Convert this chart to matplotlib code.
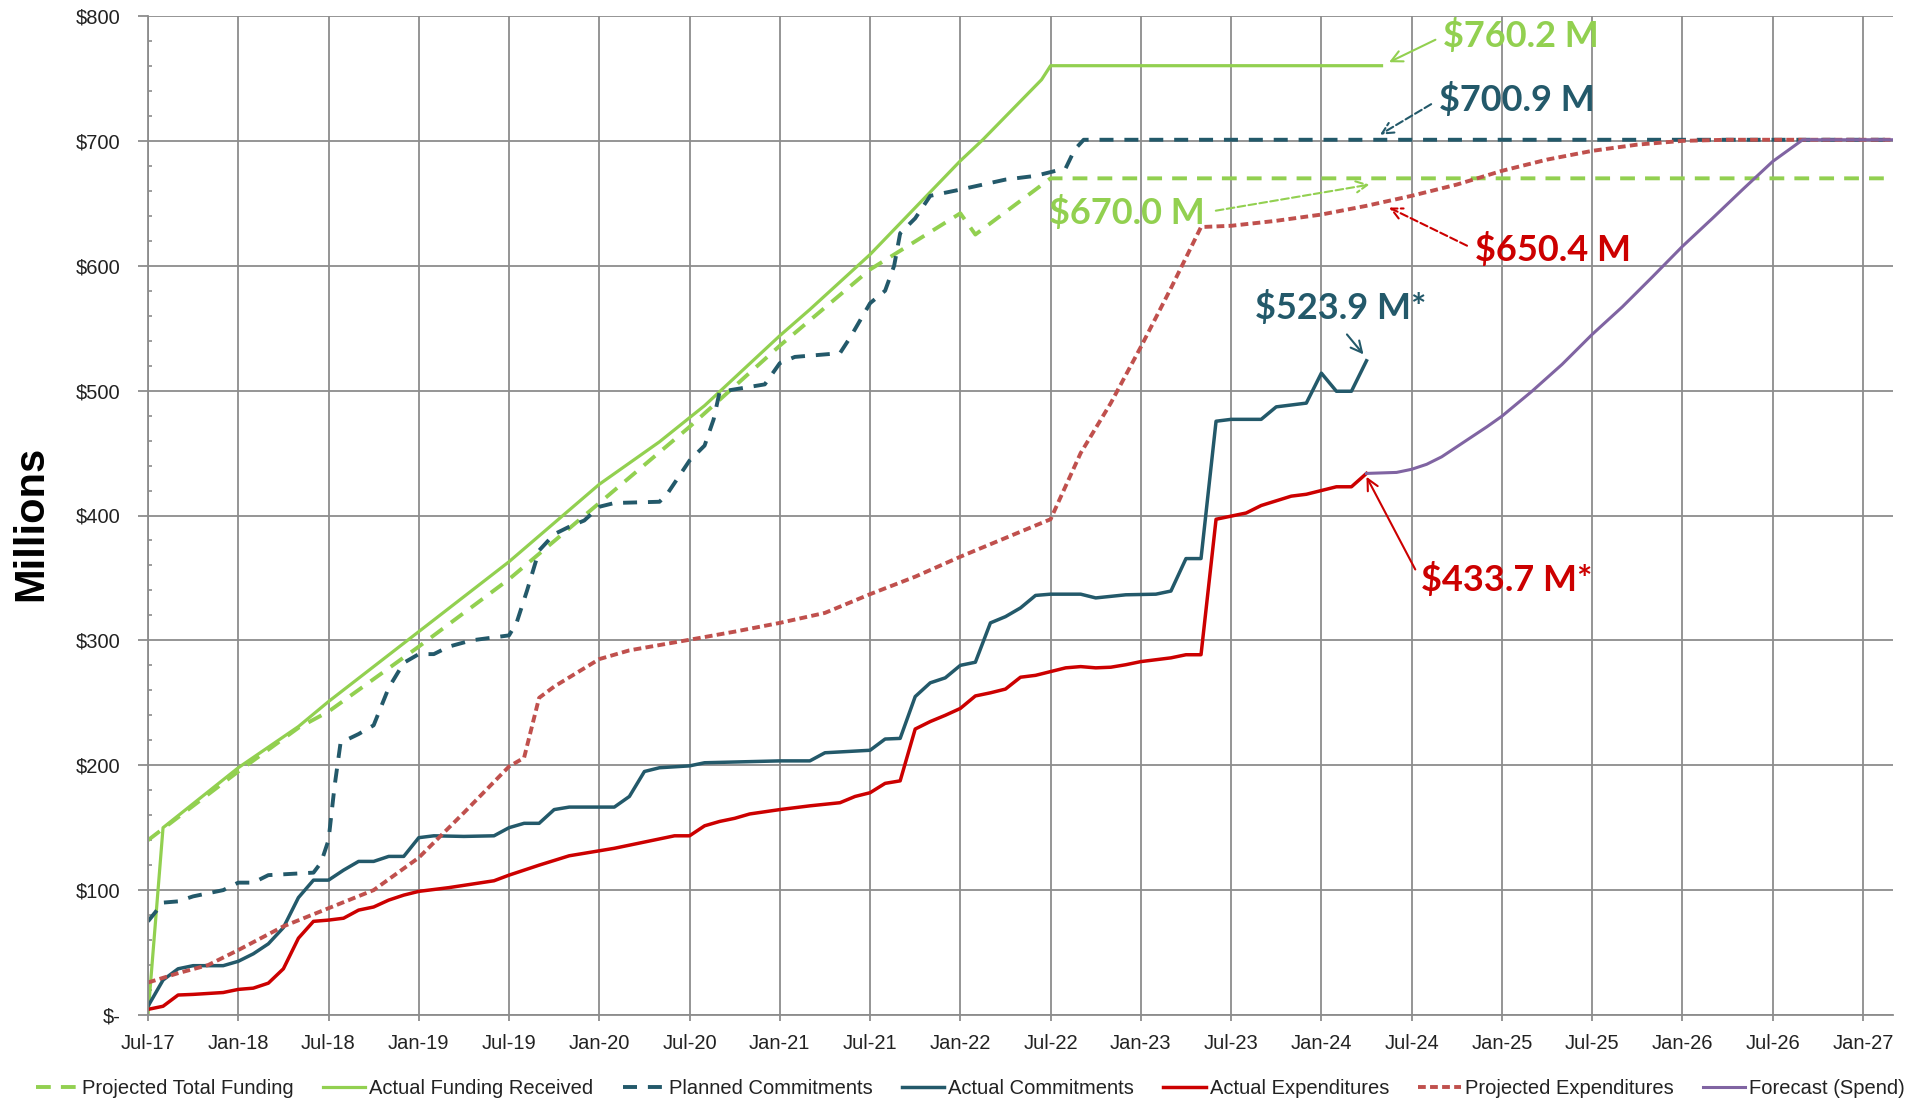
import matplotlib
matplotlib.use("Agg")
import matplotlib.pyplot as plt
from matplotlib.ticker import FixedLocator, MultipleLocator

plt.rcParams['font.family'] = ['Liberation Sans Narrow', 'Liberation Sans', 'DejaVu Sans']

# x axis: months counted from Jul-17 (= 0)
tick_months = list(range(0, 115, 6))
tick_labels = ['Jul-17', 'Jan-18', 'Jul-18', 'Jan-19', 'Jul-19', 'Jan-20', 'Jul-20',
               'Jan-21', 'Jul-21', 'Jan-22', 'Jul-22', 'Jan-23', 'Jul-23', 'Jan-24',
               'Jul-24', 'Jan-25', 'Jul-25', 'Jan-26', 'Jul-26', 'Jan-27']
y_ticks = [0, 100, 200, 300, 400, 500, 600, 700, 800]
y_labels = ['$-', '$100', '$200', '$300', '$400', '$500', '$600', '$700', '$800']

# Projected Total Funding
ptf_m = [0, 6, 10, 12, 18, 24, 30, 36, 42, 48, 54, 55, 60, 116]
ptf_v = [140, 195, 230, 243, 295, 349, 410, 471, 536, 597, 642, 625, 670, 670]

# Actual Funding Received
afr_m = [0, 1, 6, 10, 12, 18, 24, 30, 34, 37, 42, 44, 48, 54, 55.5, 59.4, 60, 82]
afr_v = [0, 150, 198, 231, 251, 307, 363, 425, 459, 488, 544, 565, 609, 684, 701, 749, 760.2, 760.2]

# Planned Commitments
pc_m = [0, 1, 2, 3, 5, 6, 7, 8, 11, 11.5, 12, 12.4, 12.8, 14, 15, 16, 17, 18, 19, 20, 21.5, 24,
        24.5, 25.2, 26, 27, 28, 29, 30, 31, 34, 34.5, 36, 37, 37.6, 38, 39, 41, 42, 43, 46,
        46.7, 48, 49, 49.6, 50, 51, 52, 54, 57, 59, 61, 61.6, 62.2, 116]
pc_v = [75, 90, 91, 95, 100, 106, 106, 112, 114, 122, 140, 183, 218, 225, 232, 262, 282, 289,
        289, 295, 300, 304, 314, 340, 372, 385, 391, 396, 407, 410, 411, 417, 444, 456, 477,
        499, 501, 505, 522, 527, 530, 543, 570, 580, 600, 626, 638, 656, 661, 669, 672, 678,
        693, 700.9, 700.9]

# Actual Commitments
ac_m = [0, 1, 2, 3, 5, 6, 7, 8, 9, 10, 11, 12, 13, 14, 15, 16, 17, 18, 19, 21, 23, 24, 25, 26,
        27, 28, 31, 32, 33, 34, 36, 37, 42, 44, 45, 48, 49, 50, 51, 52, 53, 54, 55, 56, 57, 58,
        59, 60, 62, 63, 65, 67, 68, 69, 70, 71, 72, 74, 75, 77, 78, 79, 80, 81]
ac_v = [7, 28, 37, 39.5, 39.5, 43, 49, 57, 70, 94, 108, 108, 116, 123, 123, 127, 127, 142,
        143.5, 143, 143.5, 150, 153.5, 153.5, 164.5, 166.5, 166.5, 175, 195, 198, 199.5, 202,
        203.5, 203.5, 210, 212, 221, 221.5, 255, 266, 270, 280, 282.5, 314, 319, 326, 336,
        337, 337, 334, 336.5, 337, 339.5, 365.5, 365.5, 475.5, 477, 477, 487, 490, 514,
        499.5, 499.5, 523.9]

# Actual Expenditures
ae_m = [0, 1, 2, 3, 5, 6, 7, 8, 9, 10, 11, 12, 13, 14, 15, 16, 17, 18, 20, 23, 24, 26, 28, 30,
        31, 33, 35, 36, 37, 38, 39, 40, 42, 44, 46, 47, 48, 49, 50, 51, 52, 53, 54, 55, 56, 57,
        58, 59, 60, 61, 62, 63, 64, 65, 66, 68, 69, 70, 71, 72, 73, 74, 76, 77, 79, 80, 81]
ae_v = [4.5, 7, 16, 16.5, 18, 20.5, 21.5, 25.5, 37, 61.5, 75, 76, 77.5, 84, 86.5, 92, 96, 99,
        102, 107.5, 112, 120, 127.5, 131.5, 133.5, 138.5, 143.5, 143.5, 151.5, 155, 157.5, 161,
        164.5, 167.5, 170, 175, 178, 185.5, 187.5, 229, 235, 240, 245.5, 255.5, 258, 261,
        270.5, 272, 275, 278, 279, 278, 278.5, 280.5, 283, 286, 288.5, 288.5, 397, 399.5,
        402, 408, 415.5, 417, 423, 423, 433.7]

# Projected Expenditures
pe_m = [0, 2, 4, 6, 9, 12, 15, 18, 21, 24, 25, 26, 27, 30, 32, 36, 39, 42, 45, 48, 51, 54, 57,
        60, 62, 64, 66, 68, 70, 72, 75, 78, 81, 84, 87, 90, 93, 96, 99, 102, 105, 116]
pe_v = [26, 33.5, 40, 52, 71, 85.5, 100, 126, 162, 199, 206, 254, 263, 285, 292, 300.5, 307,
        314, 322, 337, 351, 367, 382, 397, 450, 490, 535, 582, 631, 632, 636, 641, 648, 656,
        665, 676, 685, 692, 697, 700, 700.9, 700.9]

# Forecast (Spend)
fs_m = [81, 83, 84, 85, 86, 87, 88, 89, 90, 92, 94, 96, 98, 100, 102, 104, 106, 108, 110, 116]
fs_v = [433.7, 434.5, 437, 441, 447, 455, 463, 471, 479.5, 499.5, 521, 545, 567, 591, 615.5,
        638, 661, 683.5, 700.9, 700.9]

GREEN = '#92D050'
TEAL = '#23596A'
RED = '#CC0000'
BROWN = '#C0504D'
PURPLE = '#8064A2'
GRID = '#8C8C8C'

fig = plt.figure(figsize=(19.29, 11.04), dpi=100)
ax = fig.add_axes([148 / 1929, 1 - 1015 / 1104, (1893 - 148) / 1929, (1015 - 16) / 1104])

l1, = ax.plot(ptf_m, ptf_v, color=GREEN, lw=2.8, dashes=(3.8, 2.6), label='Projected Total Funding')
l2, = ax.plot(afr_m, afr_v, color=GREEN, lw=2.3, label='Actual Funding Received')
l3, = ax.plot(pc_m, pc_v, color=TEAL, lw=2.8, dashes=(3.6, 2.8), label='Planned Commitments')
l4, = ax.plot(ac_m, ac_v, color=TEAL, lw=2.5, label='Actual Commitments')
l5, = ax.plot(ae_m, ae_v, color=RED, lw=2.5, label='Actual Expenditures')
l6, = ax.plot(pe_m, pe_v, color=BROWN, lw=2.8, dashes=(2.0, 1.1), label='Projected Expenditures')
l7, = ax.plot(fs_m, fs_v, color=PURPLE, lw=2.2, label='Forecast (Spend)')

ax.set_xlim(0, 116)
ax.set_ylim(0, 800)
ax.xaxis.set_major_locator(FixedLocator(tick_months))
ax.set_xticklabels(tick_labels)
ax.yaxis.set_major_locator(FixedLocator(y_ticks))
ax.set_yticklabels(y_labels)
ax.yaxis.set_minor_locator(MultipleLocator(20))

ax.grid(True, which='major', color=GRID, lw=1.3)
ax.set_axisbelow(True)
for s in ['top', 'right']:
    ax.spines[s].set_visible(False)
for s in ['left', 'bottom']:
    ax.spines[s].set_color(GRID)
    ax.spines[s].set_linewidth(1.3)

ax.tick_params(axis='y', which='major', length=7, width=1.3, color=GRID, pad=13,
               labelsize=14.5, labelcolor='#222222')
ax.tick_params(axis='y', which='minor', direction='in', length=3, width=1.2, color=GRID)
ax.tick_params(axis='x', which='major', length=4, width=1.3, color=GRID, pad=10,
               labelsize=14.5, labelcolor='#222222')

fig.text(31 / 1929, 1 - 523 / 1104, 'Millions', rotation=90, ha='center', va='center',
         fontsize=30, fontweight='bold', family=['Liberation Sans', 'DejaVu Sans'])

afont = dict(fontsize=26, fontweight='bold', family=['Lato', 'DejaVu Sans'])

ax.annotate('$760.2 M', xy=(82.5, 763), xytext=(86.1, 784), color=GREEN, ha='left', va='center',
            arrowprops=dict(arrowstyle='->', color=GREEN, lw=1.5, relpos=(0, 0.5),
                            shrinkA=4, shrinkB=0, mutation_scale=20), **afont)
ax.annotate('$700.9 M', xy=(81.9, 705), xytext=(85.8, 733), color=TEAL, ha='left', va='center',
            arrowprops=dict(arrowstyle='->', color=TEAL, lw=1.5, linestyle='--', relpos=(0, 0.5),
                            shrinkA=4, shrinkB=0, mutation_scale=20), **afont)
ax.annotate('$670.0 M', xy=(81.2, 665), xytext=(59.9, 642.6), color=GREEN, ha='left', va='center',
            arrowprops=dict(arrowstyle='->', color=GREEN, lw=1.5, linestyle='--', relpos=(1, 0.5),
                            shrinkA=6, shrinkB=0, mutation_scale=20), **afont)
ax.annotate('$650.4 M', xy=(82.5, 646.6), xytext=(88.2, 613), color=RED, ha='left', va='center',
            arrowprops=dict(arrowstyle='->', color=RED, lw=1.5, linestyle='--', relpos=(0, 0.5),
                            shrinkA=4, shrinkB=0, mutation_scale=20), **afont)
ax.text(73.6, 566.5, '$523.9 M*', color=TEAL, ha='left', va='center', **afont)
ax.annotate('', xy=(80.8, 529), xytext=(79.7, 545),
            arrowprops=dict(arrowstyle='->', color=TEAL, lw=1.5, shrinkA=0, shrinkB=0,
                            mutation_scale=20))
ax.annotate('$433.7 M*', xy=(81, 431), xytext=(84.6, 348.6), color=RED, ha='left', va='center',
            arrowprops=dict(arrowstyle='->', color=RED, lw=1.5, relpos=(0, 0.5),
                            shrinkA=4, shrinkB=0, mutation_scale=20), **afont)

fig.legend(handles=[l1, l2, l3, l4, l5, l6, l7], loc='center', bbox_to_anchor=(0.503, 1 - 1089 / 1104),
           ncol=7, frameon=False, fontsize=14.5, handlelength=2.1, handletextpad=0.2,
           columnspacing=1.45, labelcolor='#222222')

fig.savefig('out.png', dpi=100)
